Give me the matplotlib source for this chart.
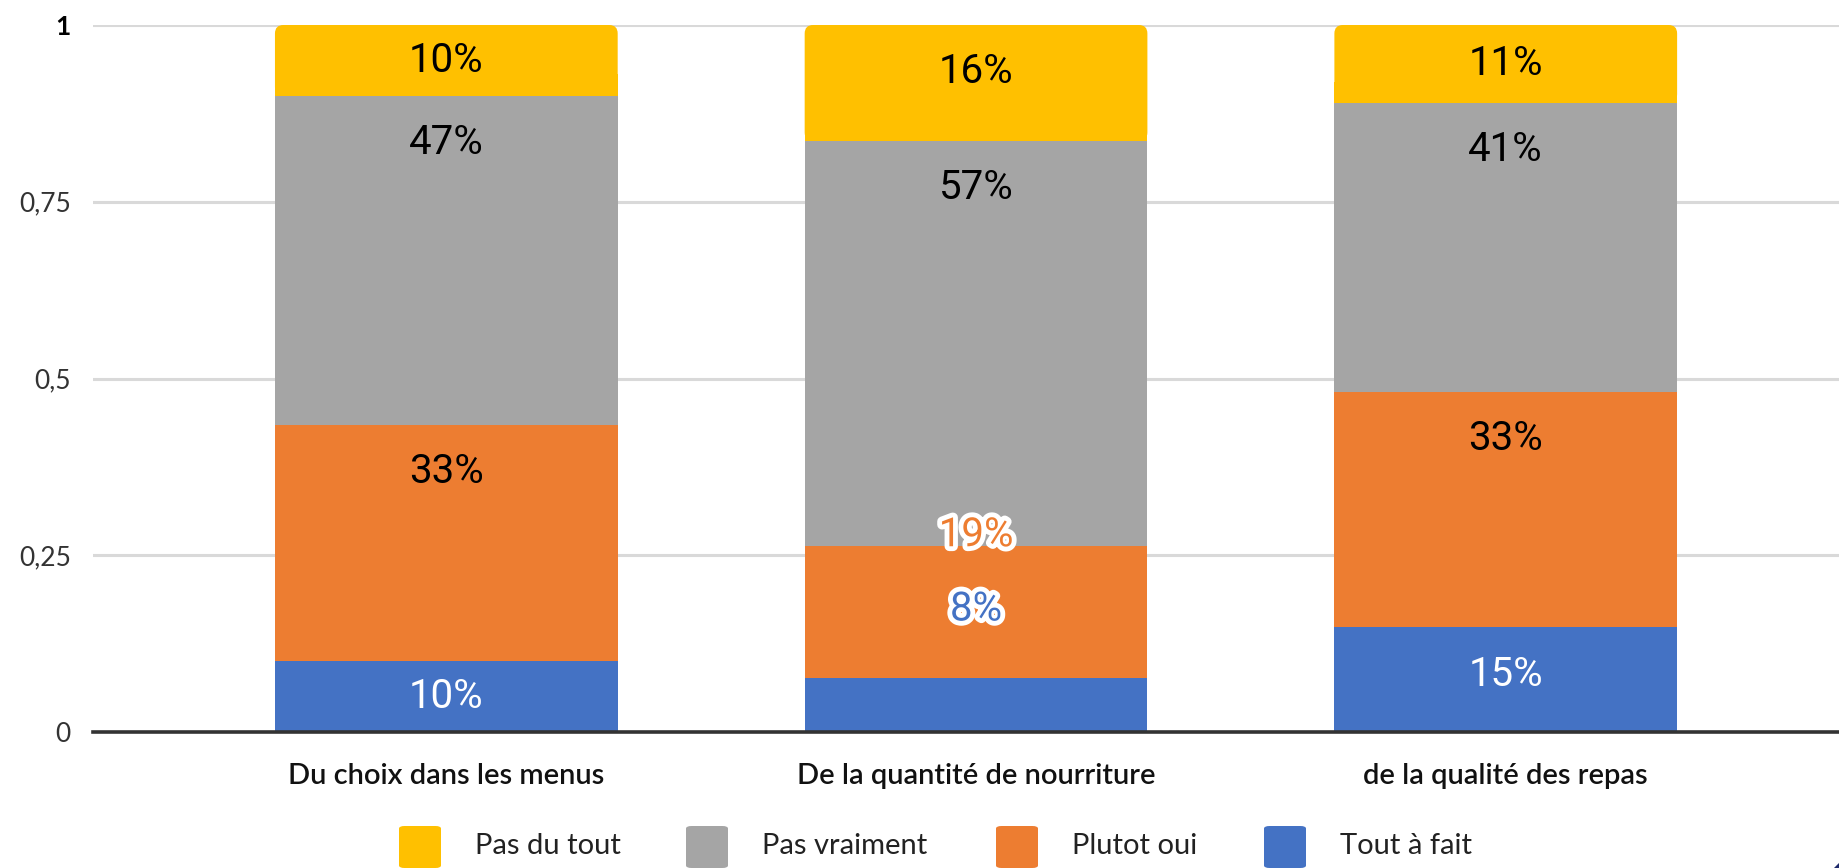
import matplotlib as mpl
import matplotlib.pyplot as plt
import matplotlib.patheffects as pe
from matplotlib.patches import FancyBboxPatch, Polygon
import numpy as np

YEL = "#FFC000"; GRAY = "#A5A5A5"; ORA = "#ED7D31"; BLUE = "#4472C4"
GRID = "#D9D9D9"; AXIS = "#333333"

categories = ["Du choix dans les menus", "De la quantité de nourriture", "de la qualité des repas"]
series = ["Pas du tout", "Pas vraiment", "Plutot oui", "Tout à fait"]
tout_a_fait = [0.100, 0.076, 0.148]
plutot_oui = [0.334, 0.187, 0.333]
pas_vraiment = [0.466, 0.573, 0.409]
pas_du_tout = [0.100, 0.164, 0.110]
yticks = [0, 0.25, 0.5, 0.75, 1]
ytick_labels = ["0", "0,25", "0,5", "0,75", "1"]

W, H = 1840, 868
fig = plt.figure(figsize=(W / 100, H / 100), dpi=100)
ax = fig.add_axes([93 / W, 1 - 732 / H, 1 - 93 / W, 707 / H])
ax.set_xlim(-0.667, 2.631); ax.set_ylim(0, 1)
for s in ["top", "right", "left"]: ax.spines[s].set_visible(False)
ax.spines["bottom"].set_color(AXIS); ax.spines["bottom"].set_linewidth(2.6)
ax.spines["bottom"].set_zorder(5)
for v in yticks[1:]:
    ax.axhline(v, color=GRID, lw=2.2, zorder=0)

x = np.arange(len(categories))
bw = 0.647
stack = [(tout_a_fait, BLUE), (plutot_oui, ORA), (pas_vraiment, GRAY)]
bottom = np.zeros(len(x))
bottoms = []
for vals, c in stack:
    bottoms.append(bottom.copy())
    ax.bar(x, vals, bw, bottom=bottom, color=c, zorder=3, linewidth=0)
    bottom = bottom + np.array(vals)
bottoms.append(bottom.copy())
# top segment: rounded box, lower corners squared off by a plain bar
for i, xi in enumerate(x):
    b = bottoms[3][i]
    p = FancyBboxPatch((xi - bw / 2, b), bw, pas_du_tout[i],
                       boxstyle="round,pad=0,rounding_size=0.016", mutation_aspect=0.75,
                       fc=YEL, ec="none", zorder=3)
    ax.add_patch(p)
ax.bar(x, [0.03] * len(x), bw, bottom=bottoms[3], color=YEL, zorder=3, linewidth=0)

# value labels
LF = dict(family="Roboto", fontsize=29, ha="center", va="center", zorder=6)
off = 0.066
all_vals = [tout_a_fait, plutot_oui, pas_vraiment, pas_du_tout]
txtcol = ["white", "black", "black", "black"]
halo = [pe.withStroke(linewidth=7, foreground="white")]
for i in range(len(x)):
    for k in range(4):
        v = all_vals[k][i]; b = bottoms[k][i]; top = b + v
        lab = f"{round(v * 100):.0f}%"
        if k < 2 and tout_a_fait[i] < 0.09:
            # small blue segment: labels pushed up, with halo
            if k == 0:
                ax.text(x[i], top + 0.098, lab, color=BLUE, path_effects=halo, **LF)
            else:
                ax.text(x[i], top + 0.016, lab, color=ORA, path_effects=halo, **LF)
            continue
        y = top - min(off, v / 2)
        ax.text(x[i], y, lab, color=txtcol[k], **LF)

ax.set_yticks(yticks)
ax.set_yticklabels(ytick_labels, family="Lato", fontsize=19, color="#333333")
ax.get_yticklabels()[-1].set_color("black"); ax.get_yticklabels()[-1].set_fontweight("bold")
ax.set_xticks(x)
ax.set_xticklabels(categories, family="Lato", fontsize=21, fontweight=600, color="#111111")
ax.tick_params(axis="y", length=0, pad=16)
ax.tick_params(axis="x", length=0, pad=22)

# legend
leg_x = [399, 686, 996, 1264]
for (lx, name, c) in zip(leg_x, series, [YEL, GRAY, ORA, BLUE]):
    sq = FancyBboxPatch((lx / W, 1 - 868 / H), 42 / W, 42 / H,
                        boxstyle="round,pad=0,rounding_size=0.003", transform=fig.transFigure,
                        fc=c, ec="none")
    fig.add_artist(sq)
    fig.text((lx + 76) / W, 1 - 846 / H, name, family="Lato", fontsize=21,
             color="#222222", va="center", ha="left")

fig.add_artist(Polygon([[1 - 6 / W, 0], [1, 0], [1, 6 / H]], closed=True,
                       transform=fig.transFigure, fc="#1F2A6B", ec="none"))

fig.savefig("out.png", dpi=100, facecolor="white")
